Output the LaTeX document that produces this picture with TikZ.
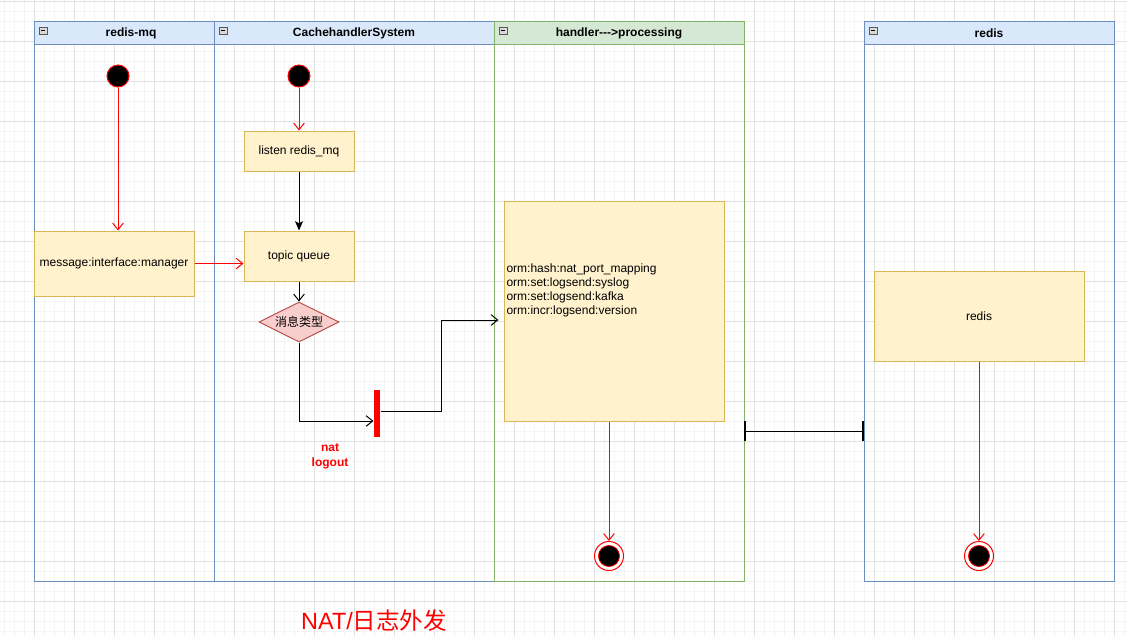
\documentclass[tikz,border=0pt]{standalone}
\usepackage{fontspec}
\setmainfont{Liberation Sans}
\newfontfamily\cjk{Noto Sans CJK SC}
\usetikzlibrary{arrows.meta,shapes.geometric,calc}
\definecolor{laneblue}{HTML}{6C8EBF}
\definecolor{lanebluefill}{HTML}{DAE8FC}
\definecolor{lanegreen}{HTML}{82B366}
\definecolor{lanegreenfill}{HTML}{D5E8D4}
\definecolor{boxfill}{HTML}{FFF2CC}
\definecolor{boxline}{HTML}{D6B656}
\definecolor{diafill}{HTML}{F8CECC}
\definecolor{dialine}{HTML}{B85450}
\definecolor{gridmajor}{HTML}{E2E2E2}
\definecolor{gridminor}{HTML}{F4F4F4}
\definecolor{myred}{HTML}{FF0000}
\begin{document}
\begin{tikzpicture}[x=0.75pt,y=-0.75pt,line width=0.75pt,
  box/.style={draw=boxline,fill=boxfill,inner sep=0pt,font=\fontsize{9}{10.5}\selectfont},
  dia/.style={diamond,draw=dialine,fill=diafill,inner sep=0pt,aspect=2,minimum width=60pt,minimum height=30pt,font=\fontsize{9}{10.5}\selectfont\cjk},
  startc/.style={circle,draw=myred,fill=black,minimum size=16.5pt,inner sep=0pt},
  endc/.style={circle,draw=myred,fill=white,minimum size=21.75pt,inner sep=0pt,
    path picture={\draw[myred,fill=black,line width=0.6pt] (path picture bounding box.center) circle (7.9pt);}},
  barbar/.style={rectangle,fill=myred,minimum width=4.5pt,minimum height=35.25pt,inner sep=0pt},
  redarr/.style={draw=myred,-{Straight Barb[length=5pt,width=8pt]}},
  blkarr/.style={draw=black,-{Straight Barb[length=5pt,width=8pt]}},
  blkfill/.style={draw=black,-{Stealth[length=7pt,width=6pt,inset=1.5pt]}},
  hdr/.style={font=\fontsize{9}{10.5}\selectfont\bfseries,inner sep=0pt},
  lbl/.style={font=\fontsize{9}{10.5}\selectfont,inner sep=0pt}
]
% background and grid
\fill[white] (0,0) rectangle (1127,637);
\useasboundingbox (0,0) rectangle (1127,637);
\foreach \x in {4,14,...,1124} \draw[gridminor] (\x,0) -- (\x,637);
\foreach \y in {1,11,...,631} \draw[gridminor] (0,\y) -- (1127,\y);
\foreach \x in {34,74,...,1114} \draw[gridmajor] (\x,0) -- (\x,637);
\foreach \y in {1,41,...,601} \draw[gridmajor] (0,\y) -- (1127,\y);

% swimlanes
\fill[lanebluefill] (34,21) rectangle (214,44);
\fill[lanebluefill] (214,21) rectangle (494,44);
\fill[lanegreenfill] (494,21) rectangle (744,44);
\fill[lanebluefill] (864,21) rectangle (1114,44);
\draw[laneblue] (34,21) rectangle (214,581);
\draw[laneblue] (34,44) -- (214,44);
\draw[laneblue] (214,21) rectangle (494,581);
\draw[laneblue] (214,44) -- (494,44);
\draw[lanegreen] (494,21) rectangle (744,581);
\draw[lanegreen] (494,44) -- (744,44);
\draw[laneblue] (864,21) rectangle (1114,581);
\draw[laneblue] (864,44) -- (1114,44);
\foreach \ix in {39,219,499,869} {
  \draw[gray!70!black,fill=gray!30,line width=0.5pt] (\ix,27) rectangle ++(8,7);
  \draw[black,line width=0.5pt] (\ix+2,30.5) -- ++(4,0);
}
\node[hdr] (h1) at (131,33) {redis-mq};
\node[hdr] (h2) at (354,33) {CachehandlerSystem};
\node[hdr] (h3) at (619,33) {handler-{}-{}-{}>processing};
\node[hdr] (h4) at (989,33) {redis};

% nodes
\node[startc] (s1) at (118,76) {};
\node[startc] (s2) at (299,76) {};
\node[box,minimum width=82.5pt,minimum height=30pt] (listen) at (299,151) {listen redis\_mq};
\node[box,minimum width=82.5pt,minimum height=37.5pt] (topic) at (299,256) {topic queue};
\node[box,minimum width=120pt,minimum height=48.75pt] (msg) at (114,263.5) {message:interface:manager};
\node[dia] (dia) at (299,322) {消息类型};
\node[barbar] (bar) at (377,413.5) {};
\node[font=\fontsize{9}{11.25}\selectfont\bfseries,text=myred,align=center,inner sep=0pt] (nat) at (330,456) {nat\\logout};
\node[box,minimum width=165pt,minimum height=165pt] (proc) at (614,311) {};
\node[lbl,anchor=west,align=left] (proctext) at (506,290) {orm:hash:nat\_port\_mapping\\orm:set:logsend:syslog\\orm:set:logsend:kafka\\orm:incr:logsend:version};
\node[box,minimum width=157.5pt,minimum height=67.5pt] (redis) at (979,316) {redis};
\node[endc] (e1) at (609,556) {};
\node[endc] (e2) at (979,556) {};
\coordinate (c1) at (744,431);
\coordinate (c2) at (864,431);

% connectors
\draw[redarr] (s1.south) -- (s1.south |- msg.north);
\draw[redarr] (s2) -- (listen);
\draw[blkfill] (listen) -- (topic);
\draw[redarr] (msg.east) -- (msg.east -| topic.west);
\draw[blkarr] (topic) -- (dia);
\draw[blkarr] (dia.south) |- ($(bar.west)+(0,7.5)$);
\draw[blkarr] ($(bar.east)+(0,-2.5)$) -| (441,320) -- ($(proc.west)+(-5,9)$);
\draw[redarr] (e1.north |- proc.south) -- (e1);
\draw[redarr] (redis) -- (e2);
\draw[{Bar[width=15pt,line width=1.2pt]}-{Bar[width=15pt,line width=1.2pt]}] (c1) -- (c2);

% title
\node[font=\fontsize{17.6}{20}\selectfont,text=myred,inner sep=0pt] (title) at (374,621) {NAT/{\cjk 日志外发}};
\end{tikzpicture}
\end{document}
